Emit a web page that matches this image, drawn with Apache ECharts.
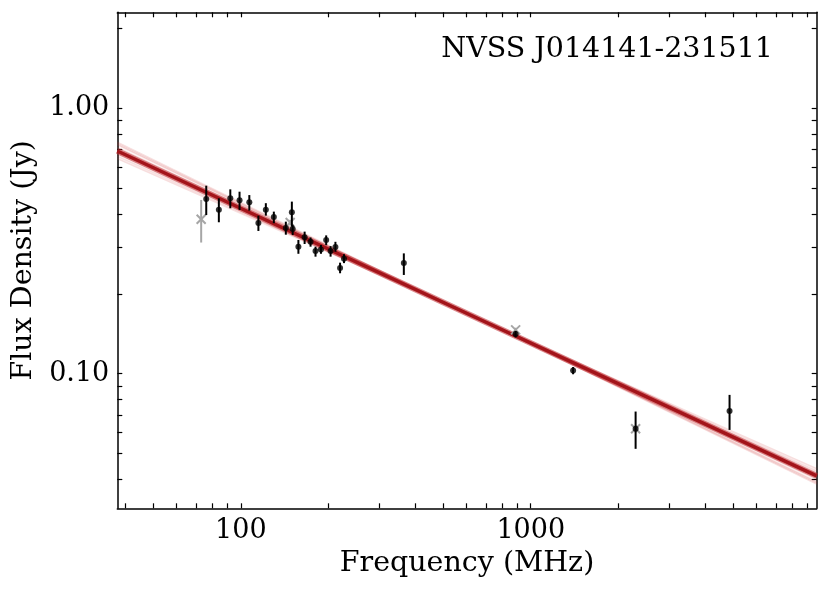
<!DOCTYPE html>
<html lang="en">
<head>
    <meta charset="utf-8">
    <title>NVSS J014141-231511 spectrum</title>
    <script src="https://cdn.jsdelivr.net/npm/echarts@6/dist/echarts.min.js"></script>
    <style>
        html, body { margin: 0; padding: 0; background: #fff; }
        #chart { width: 830px; height: 591px; }
    </style>
</head>
<body>
    <div id="chart"></div>
    <script>
        // -- data
        var sourceName = 'NVSS J014141-231511';

        // fitted points (black)
        var freq = [76, 84, 92, 99, 107, 115, 122, 130, 143, 150, 151, 158, 166, 174, 181, 189, 197, 204, 212, 220, 227, 365, 887, 1400, 2300, 4850];
        var flux = [0.455, 0.415, 0.458, 0.450, 0.443, 0.370, 0.415, 0.389, 0.354, 0.406, 0.351, 0.301, 0.327, 0.314, 0.290, 0.294, 0.319, 0.290, 0.300, 0.250, 0.271, 0.261, 0.141, 0.1027, 0.062, 0.0724];
        var fluxLo = [0.396, 0.372, 0.420, 0.414, 0.4115, 0.345, 0.394, 0.369, 0.334, 0.358, 0.333, 0.283, 0.308, 0.301, 0.276, 0.283, 0.305, 0.276, 0.288, 0.239, 0.261, 0.2355, 0.137, 0.0995, 0.0521, 0.0614];
        var fluxHi = [0.511, 0.458, 0.495, 0.485, 0.471, 0.394, 0.439, 0.408, 0.374, 0.445, 0.364, 0.319, 0.343, 0.326, 0.301, 0.3055, 0.332, 0.3025, 0.314, 0.262, 0.282, 0.284, 0.145, 0.106, 0.072, 0.0832];

        // excluded points (grey crosses)
        var exFreq = [73, 148, 887, 2300];
        var exFlux = [0.382, 0.371, 0.1462, 0.062];
        var exLo = [0.312, 0.362, 0.143, 0.060];
        var exHi = [0.4515, 0.380, 0.149, 0.064];

        // best fit line end points, and the spread of posterior draws
        var fitFreq = [37.5, 9690];
        var fitFlux = [0.690, 0.0412];
        var drawLeft = [0.745, 0.728, 0.712, 0.700, 0.684, 0.672, 0.660, 0.647, 0.735, 0.695];
        var drawRight = [0.0384, 0.0392, 0.0400, 0.0407, 0.0416, 0.0423, 0.0430, 0.0438, 0.0388, 0.0410];

        // axes
        var xMin = 37.5, xMax = 9690;
        var yMin = 0.0311, yMax = 2.30;
        var xTickLabels = [100, 1000];
        var yTickLabels = [0.1, 1];
        var xTicks = [40, 50, 60, 70, 80, 90, 100, 200, 300, 400, 500, 600, 700, 800, 900, 1000,
            2000, 3000, 4000, 5000, 6000, 7000, 8000, 9000];
        var yTicks = [0.04, 0.05, 0.06, 0.07, 0.08, 0.09, 0.1, 0.2, 0.3, 0.4, 0.5, 0.6, 0.7, 0.8, 0.9, 1, 2];

        var font = 'DejaVu Serif';

        var chart = echarts.init(document.getElementById('chart'));

        function zip3(a, b, c) {
            return a.map(function (v, i) { return [v, b[i], c[i]]; });
        }

        function errBar(color) {
            return function (params, api) {
                var p1 = api.coord([api.value(0), api.value(1)]);
                var p2 = api.coord([api.value(0), api.value(2)]);
                return {
                    type: 'line',
                    shape: { x1: p1[0], y1: p1[1], x2: p2[0], y2: p2[1] },
                    style: { stroke: color, lineWidth: 2 }
                };
            };
        }

        function crossMark(params, api) {
            var p = api.coord([api.value(0), api.value(1)]);
            var r = 4.5;
            var st = { stroke: '#a6a6a6', lineWidth: 2 };
            return {
                type: 'group',
                children: [
                    { type: 'line', shape: { x1: p[0] - r, y1: p[1] - r, x2: p[0] + r, y2: p[1] + r }, style: st },
                    { type: 'line', shape: { x1: p[0] - r, y1: p[1] + r, x2: p[0] + r, y2: p[1] - r }, style: st }
                ]
            };
        }

        function xAxisCfg(pos, showLabel) {
            return {
                type: 'log', logBase: 10, position: pos, min: xMin, max: xMax,
                name: showLabel ? 'Frequency (MHz)' : '', nameLocation: 'middle', nameGap: 41,
                nameTextStyle: { fontFamily: font, fontSize: 28.5, color: '#000' },
                axisLine: { show: true, onZero: false, lineStyle: { color: '#000', width: 1.5 } },
                axisTick: { show: true, inside: true, length: 5, customValues: xTicks, lineStyle: { color: '#000', width: 1.2 } },
                axisLabel: {
                    show: showLabel, customValues: xTickLabels, margin: 9,
                    fontFamily: font, fontSize: 27, color: '#000',
                    formatter: function (v) { return String(Math.round(v)); }
                },
                splitLine: { show: false }, minorTick: { show: false }
            };
        }

        function yAxisCfg(pos, showLabel) {
            return {
                type: 'log', logBase: 10, position: pos, min: yMin, max: yMax,
                name: showLabel ? 'Flux Density (Jy)' : '', nameLocation: 'middle', nameGap: 76, nameRotate: 90,
                nameTextStyle: { fontFamily: font, fontSize: 28.5, color: '#000' },
                axisLine: { show: true, onZero: false, lineStyle: { color: '#000', width: 1.5 } },
                axisTick: { show: true, inside: true, length: 5, customValues: yTicks, lineStyle: { color: '#000', width: 1.2 } },
                axisLabel: {
                    show: showLabel, customValues: yTickLabels, margin: 8,
                    fontFamily: font, fontSize: 27, color: '#000',
                    formatter: function (v) { return v.toFixed(2); }
                },
                splitLine: { show: false }, minorTick: { show: false }
            };
        }

        var series = [];
        // posterior draws
        drawLeft.forEach(function (l, i) {
            series.push({
                type: 'line', silent: true, symbol: 'none', z: 1,
                data: [[fitFreq[0], l], [fitFreq[1], drawRight[i]]],
                lineStyle: { color: 'rgba(205, 60, 60, 0.17)', width: 1.6 }
            });
        });
        // best fit
        series.push({
            type: 'line', silent: true, symbol: 'none', z: 2,
            data: [[fitFreq[0], fitFlux[0]], [fitFreq[1], fitFlux[1]]],
            lineStyle: { color: 'rgba(190, 40, 45, 0.55)', width: 6 }
        });
        series.push({
            type: 'line', silent: true, symbol: 'none', z: 2,
            data: [[fitFreq[0], fitFlux[0]], [fitFreq[1], fitFlux[1]]],
            lineStyle: { color: '#a3141a', width: 3.4 }
        });
        // excluded points
        series.push({
            type: 'custom', z: 3, renderItem: errBar('#a6a6a6'),
            encode: { x: 0, y: [1, 2] }, data: zip3(exFreq, exLo, exHi)
        });
        series.push({
            type: 'custom', z: 3, renderItem: crossMark,
            encode: { x: 0, y: 1 }, data: exFreq.map(function (f, i) { return [f, exFlux[i]]; })
        });
        // fitted points
        series.push({
            type: 'custom', z: 4, renderItem: errBar('#000'),
            encode: { x: 0, y: [1, 2] }, data: zip3(freq, fluxLo, fluxHi)
        });
        series.push({
            type: 'scatter', z: 5, symbol: 'circle', symbolSize: 6,
            itemStyle: { color: '#000' },
            data: freq.map(function (f, i) { return [f, flux[i]]; })
        });

        var option = {
            animation: false,
            backgroundColor: '#fff',
            grid: { left: 117.3, right: 13.3, top: 12.3, bottom: 82.7, containLabel: false },
            graphic: [{
                type: 'text', right: 57, top: 35,
                style: { text: sourceName, fontFamily: font, fontSize: 28.5, fill: '#000' }
            }],
            xAxis: [xAxisCfg('bottom', true), xAxisCfg('top', false)],
            yAxis: [yAxisCfg('left', true), yAxisCfg('right', false)],
            series: series
        };

        chart.setOption(option, true);
    </script>
</body>
</html>
